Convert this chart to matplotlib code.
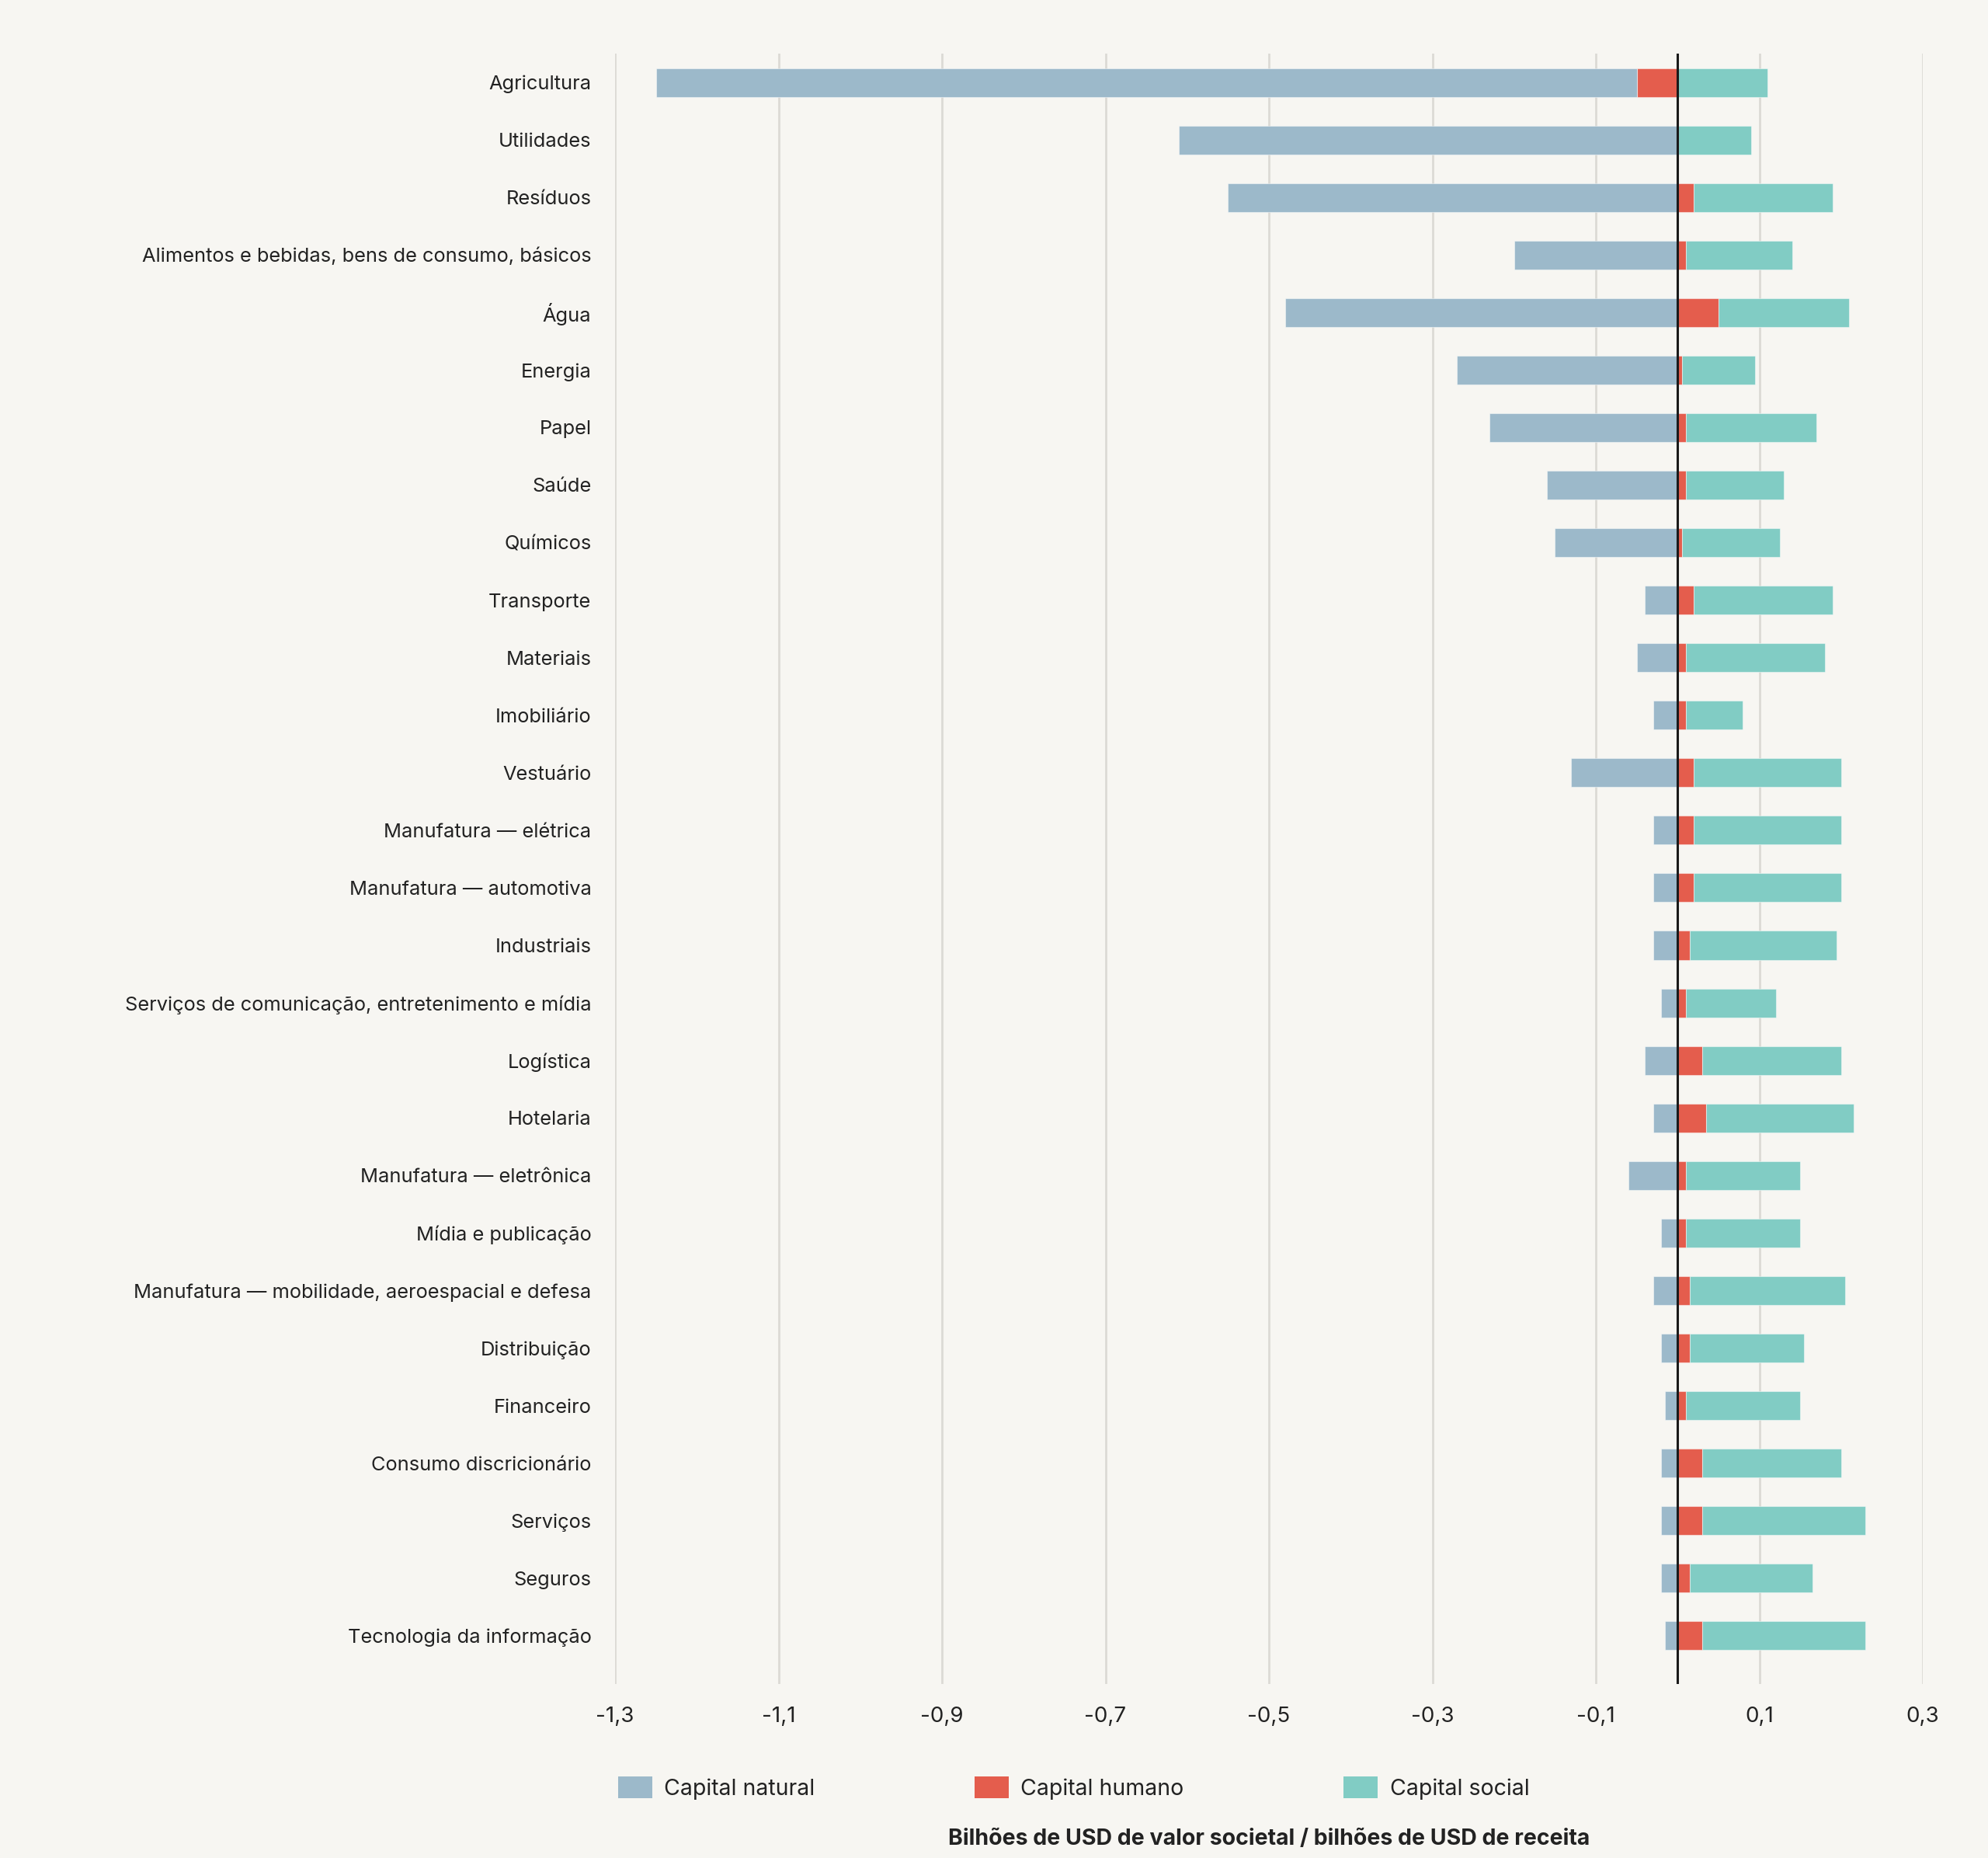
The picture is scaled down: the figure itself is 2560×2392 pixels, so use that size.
import numpy as np
import matplotlib.pyplot as plt
from matplotlib.patches import Patch

# Sectors, top to bottom
sectors = [
    'Agricultura', 'Utilidades', 'Resíduos',
    'Alimentos e bebidas, bens de consumo, básicos', 'Água', 'Energia',
    'Papel', 'Saúde', 'Químicos', 'Transporte', 'Materiais', 'Imobiliário',
    'Vestuário', 'Manufatura — elétrica', 'Manufatura — automotiva',
    'Industriais', 'Serviços de comunicação, entretenimento e mídia',
    'Logística', 'Hotelaria', 'Manufatura — eletrônica', 'Mídia e publicação',
    'Manufatura — mobilidade, aeroespacial e defesa', 'Distribuição',
    'Financeiro', 'Consumo discricionário', 'Serviços', 'Seguros',
    'Tecnologia da informação',
]

capital_natural = [
    -1.20, -0.61, -0.55, -0.20, -0.48, -0.27, -0.23, -0.16, -0.15, -0.04,
    -0.05, -0.03, -0.13, -0.03, -0.03, -0.03, -0.02, -0.04, -0.03, -0.06,
    -0.02, -0.03, -0.02, -0.015, -0.02, -0.02, -0.02, -0.015,
]
capital_humano = [
    -0.05, 0.0, 0.02, 0.01, 0.05, 0.005, 0.01, 0.01, 0.005, 0.02,
    0.01, 0.01, 0.02, 0.02, 0.02, 0.015, 0.01, 0.03, 0.035, 0.01,
    0.01, 0.015, 0.015, 0.01, 0.03, 0.03, 0.015, 0.03,
]
capital_social = [
    0.11, 0.09, 0.17, 0.13, 0.16, 0.09, 0.16, 0.12, 0.12, 0.17,
    0.17, 0.07, 0.18, 0.18, 0.18, 0.18, 0.11, 0.17, 0.18, 0.14,
    0.14, 0.19, 0.14, 0.14, 0.17, 0.20, 0.15, 0.20,
]

xticks = [-1.3, -1.1, -0.9, -0.7, -0.5, -0.3, -0.1, 0.1, 0.3]

c_nat = '#9CB9CA'
c_hum = '#E45D4D'
c_soc = '#81CCC4'
bg = '#F7F6F2'
txt = '#222222'

plt.rcParams['font.family'] = ['Inter', 'DejaVu Sans']

fig = plt.figure(figsize=(25.6, 23.92), dpi=100, facecolor=bg)
ax = fig.add_axes([792 / 2560, 1 - 2168 / 2392, (2476 - 792) / 2560, (2168 - 69) / 2392])
ax.set_facecolor(bg)

y = np.arange(len(sectors))
hum = np.array(capital_humano)
nat = np.array(capital_natural)
soc = np.array(capital_social)

edge = dict(edgecolor=(1, 1, 1, 0.45), linewidth=0.8)
# human capital sits next to zero, natural extends left of it, social right of it
ax.barh(y, hum, height=0.5, color=c_hum, zorder=3, **edge)
ax.barh(y, nat, left=np.minimum(hum, 0), height=0.5, color=c_nat, zorder=3, **edge)
ax.barh(y, soc, left=np.maximum(hum, 0), height=0.5, color=c_soc, zorder=3, **edge)

ax.axvline(0, color='#1a1a1a', linewidth=2.2, zorder=4)

ax.set_xlim(-1.3, 0.3)
ax.set_ylim(len(sectors) - 1 + 0.84, -0.5)
ax.set_xticks(xticks)
ax.set_xticklabels([f'{v:.1f}'.replace('.', ',') for v in xticks], fontsize=20, color=txt)
ax.set_yticks(y)
ax.set_yticklabels(sectors, fontsize=18.3, color=txt)
ax.tick_params(axis='both', length=0)
ax.tick_params(axis='y', pad=22)
ax.tick_params(axis='x', pad=21)
ax.grid(axis='x', color='#DCDAD5', linewidth=2, zorder=0)
ax.grid(axis='y', visible=False)
for s in ax.spines.values():
    s.set_visible(False)

handles = [
    Patch(facecolor=c_nat, label='Capital natural'),
    Patch(facecolor=c_hum, label='Capital humano'),
    Patch(facecolor=c_soc, label='Capital social'),
]
fig.legend(handles=handles, loc='center left', bbox_to_anchor=(770 / 2560, 1 - 2302 / 2392),
           ncol=3, frameon=False, fontsize=20.5, handlelength=1.55, handleheight=1.15,
           handletextpad=0.55, columnspacing=7.2, labelcolor=txt)

fig.text(0.5 * (792 + 2476) / 2560, 1 - 2367 / 2392,
         'Bilhões de USD de valor societal / bilhões de USD de receita',
         ha='center', va='center', fontsize=20.5, fontweight='bold', color=txt)

fig.savefig('out.png', dpi=100, facecolor=bg)
